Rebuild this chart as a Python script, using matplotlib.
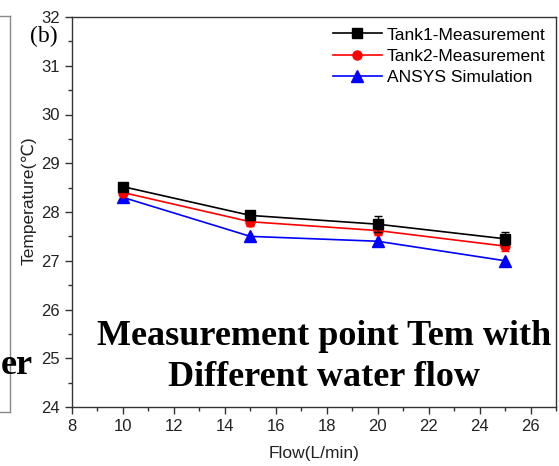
import numpy as np
import matplotlib.pyplot as plt
from matplotlib.lines import Line2D
from matplotlib.ticker import MultipleLocator

plt.rcParams.update({
    "font.family": ["Liberation Sans", "DejaVu Sans"],
    "font.size": 12,
    "axes.linewidth": 1.0,
    "axes.edgecolor": "#333333",
})

flow = [10, 15, 20, 25]
tank1 = [28.52, 27.93, 27.75, 27.45]
tank1_err = [0.06, 0.10, 0.17, 0.13]
tank2 = [28.40, 27.80, 27.62, 27.30]
tank2_err = [0.05, 0.09, 0.10, 0.10]
ansys = [28.30, 27.50, 27.40, 27.00]

W, H = 559, 466
fig = plt.figure(figsize=(W / 100, H / 100), dpi=100)
ax = fig.add_axes([72 / W, 1 - 407 / H, (556 - 72) / W, (407 - 17) / H])

ax.errorbar(flow, tank1, yerr=tank1_err, color="black", marker="s", ms=6.5, lw=1.2,
            capsize=3, elinewidth=1, label="Tank1-Measurement", zorder=3)
ax.errorbar(flow, tank2, yerr=tank2_err, color="red", marker="o", ms=6.5, lw=1.2,
            capsize=3, elinewidth=1, label="Tank2-Measurement", zorder=2)
ax.plot(flow, ansys, color="blue", marker="^", ms=8, lw=1.2, label="ANSYS Simulation", zorder=1)

ax.set_xlim(8, 27)
ax.set_ylim(24, 32)
ax.xaxis.set_major_locator(MultipleLocator(2))
ax.xaxis.set_minor_locator(MultipleLocator(1))
ax.yaxis.set_major_locator(MultipleLocator(1))
ax.yaxis.set_minor_locator(MultipleLocator(0.5))
ax.tick_params(which="major", direction="out", length=5, width=1, colors="#333333",
               labelcolor="#222222", labelsize=12)
ax.tick_params(which="minor", direction="out", length=3, width=1, colors="#333333")
ax.set_xlabel("Flow(L/min)", color="#222222", fontsize=12.5)
ax.set_ylabel("Temperature(℃)", color="#222222", fontsize=12.5)
ax.xaxis.set_label_coords(0.5, -0.1)
ax.yaxis.set_label_coords(-0.074, 0.528)

handles = [
    Line2D([], [], color="black", marker="s", ms=6.5, lw=1.2),
    Line2D([], [], color="red", marker="o", ms=6.5, lw=1.2),
    Line2D([], [], color="blue", marker="^", ms=8, lw=1.2),
]
ax.legend(handles, ["Tank1-Measurement", "Tank2-Measurement", "ANSYS Simulation"],
          loc="upper right", frameon=False, fontsize=12.5, handlelength=2.8,
          handletextpad=0.3, labelspacing=0.35, borderaxespad=0.2,
          bbox_to_anchor=(1.0, 1.0))

fig.text(58 / W, 1 - 26 / H, "(b)", ha="right", va="top",
         family="Liberation Serif", fontsize=17)

ax.text(0.52, 0.128, "Measurement point Tem with\nDifferent water flow", transform=ax.transAxes,
        ha="center", va="center", family="Liberation Serif", fontweight="bold",
        fontsize=26, linespacing=1.3)

# remnant of the neighbouring panel on the left
fig.add_artist(Line2D([0, 10 / W], [1 - 16 / H] * 2, color="#888888", lw=1))
fig.add_artist(Line2D([10 / W] * 2, [1 - 16 / H, 1 - 412 / H], color="#888888", lw=1))
fig.add_artist(Line2D([0, 10 / W], [1 - 412 / H] * 2, color="#888888", lw=1))
fig.text(0.5 / W, 1 - 374 / H, "er", ha="left", va="baseline", family="Liberation Serif",
         fontweight="bold", fontsize=26)

fig.savefig("out.png", dpi=100)
